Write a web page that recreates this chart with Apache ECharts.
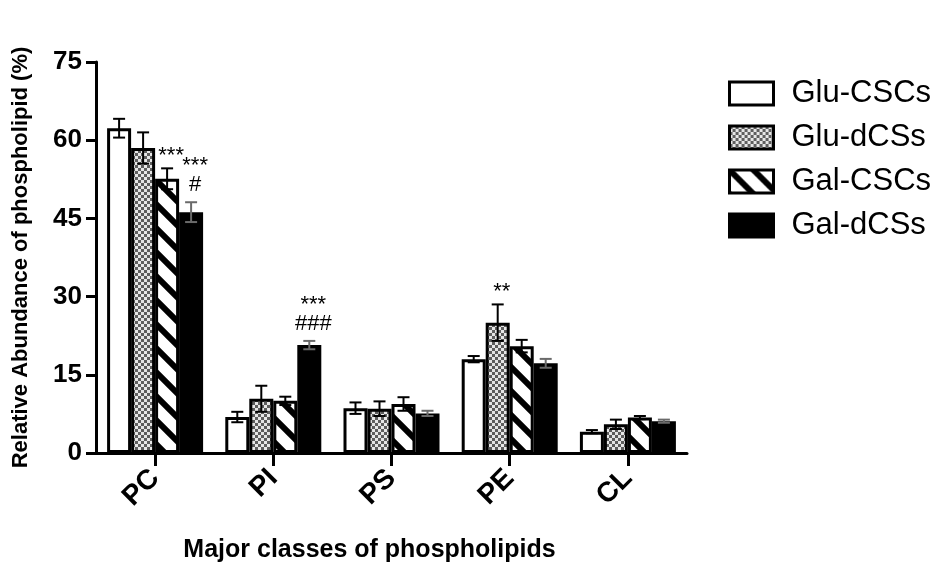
<!DOCTYPE html>
<html>
<head>
<meta charset="utf-8">
<title>Major classes of phospholipids</title>
<script src="https://cdn.jsdelivr.net/npm/echarts@6.0.0/dist/echarts.min.js"></script>
<style>
  html, body { margin: 0; padding: 0; background: #ffffff; }
  #chart { width: 939px; height: 568px; }
</style>
</head>
<body>
<div id="chart"></div>
<script>
// Phospholipid classes on the x axis
const categories = ['PC', 'PI', 'PS', 'PE', 'CL'];

// Group names, in legend order
const groupNames = ['Glu-CSCs', 'Glu-dCSs', 'Gal-CSCs', 'Gal-dCSs'];

// Mean relative abundance (%) per class, one array per group
const gluCSCs = [62.3, 6.9, 8.6, 18.0, 4.1];
const gluDCSs = [58.5, 10.4, 8.5, 25.0, 5.5];
const galCSCs = [52.6, 10.0, 9.4, 20.5, 6.8];
const galDCSs = [46.2, 20.7, 7.6, 17.2, 6.1];

// Error (SD) per class, one array per group
const gluCSCsErr = [1.8, 1.0, 1.1, 0.6, 0.3];
const gluDCSsErr = [3.0, 2.5, 1.4, 3.5, 0.9];
const galCSCsErr = [2.0, 0.8, 1.3, 1.2, 0.3];
const galDCSsErr = [1.9, 0.8, 0.5, 0.85, 0.3];

// Y axis ticks
const yTicks = [0, 15, 30, 45, 60, 75];

// Significance marks: class, group index, text, stacking level above the error bar
const sigMarks = [
  ['PC', 2, '***', 0],
  ['PC', 3, '#', 0],
  ['PC', 3, '***', 1],
  ['PI', 3, '###', 0],
  ['PI', 3, '***', 1],
  ['PE', 1, '**', 0]
];

const means = [gluCSCs, gluDCSs, galCSCs, galDCSs];
const errs = [gluCSCsErr, gluDCSsErr, galCSCsErr, galDCSsErr];

const FONT = '"Liberation Sans", Arial, Helvetica, sans-serif';
const BAR_W = 24;

// Fill patterns
function checkerPattern() {
  const c = document.createElement('canvas');
  c.width = 6; c.height = 6;
  const g = c.getContext('2d');
  g.fillStyle = '#e6e6e6';
  g.fillRect(0, 0, 6, 6);
  g.fillStyle = '#5e5e5e';
  g.fillRect(0, 0, 3, 3);
  g.fillRect(3, 3, 3, 3);
  return c;
}
function stripePattern() {
  const s = 24;
  const c = document.createElement('canvas');
  c.width = s; c.height = s;
  const g = c.getContext('2d');
  g.fillStyle = '#ffffff';
  g.fillRect(0, 0, s, s);
  g.strokeStyle = '#000000';
  g.lineWidth = 6;
  g.lineCap = 'square';
  for (let k = -1; k <= 1; k++) {
    g.beginPath();
    g.moveTo(-4, s * k - 4);
    g.lineTo(s + 4, s * k + s + 4);
    g.stroke();
  }
  return c;
}

const fills = [
  '#ffffff',
  { image: checkerPattern(), repeat: 'repeat' },
  { image: stripePattern(), repeat: 'repeat' },
  '#000000'
];
const errColors = ['#000000', '#000000', '#000000', '#6a6a6a'];

const barSeries = groupNames.map((name, i) => ({
  name: name,
  type: 'bar',
  barWidth: BAR_W,
  barGap: '0%',
  data: means[i],
  itemStyle: { color: fills[i], borderColor: '#000000', borderWidth: 3 },
  z: 2
}));

const errSeries = groupNames.map((name, i) => ({
  type: 'custom',
  name: name + ' err',
  z: 5,
  silent: true,
  data: categories.map((c, j) => [j, means[i][j], errs[i][j]]),
  encode: { x: 0, y: 1 },
  renderItem: function (params, api) {
    const idx = api.value(0);
    const m = api.value(1);
    const e = api.value(2);
    const base = api.coord([idx, m]);
    const x = base[0] + (i - 1.5) * BAR_W;
    const yTop = api.coord([idx, m + e])[1];
    const yBot = api.coord([idx, m - e])[1];
    const half = 6;
    const style = { stroke: errColors[i], lineWidth: 2 };
    return {
      type: 'group',
      children: [
        { type: 'line', shape: { x1: x, y1: yTop, x2: x, y2: yBot }, style: style },
        { type: 'line', shape: { x1: x - half, y1: yTop, x2: x + half, y2: yTop }, style: style },
        { type: 'line', shape: { x1: x - half, y1: yBot, x2: x + half, y2: yBot }, style: style }
      ]
    };
  }
}));

const sigSeries = {
  type: 'custom',
  name: 'significance',
  z: 6,
  silent: true,
  data: sigMarks.map(s => {
    const j = categories.indexOf(s[0]);
    const g = s[1];
    return [j, means[g][j] + errs[g][j], g, s[3]];
  }),
  encode: { x: 0, y: 1 },
  renderItem: function (params, api) {
    const idx = api.value(0);
    const top = api.coord([idx, api.value(1)]);
    const g = api.value(2);
    const level = api.value(3);
    const txt = sigMarks[params.dataIndex][2];
    const isStar = txt.indexOf('*') >= 0;
    const x = top[0] + (g - 1.5) * BAR_W + 4;
    const y = top[1] - 17 - level * 24 + (isStar ? 5 : 0);
    return {
      type: 'text',
      style: {
        x: x, y: y, text: txt,
        align: 'center', verticalAlign: 'middle',
        font: '22px ' + FONT, fill: '#000000'
      }
    };
  }
};

const chart = echarts.init(document.getElementById('chart'), null, { renderer: 'canvas' });

chart.setOption({
  animation: false,
  backgroundColor: '#ffffff',
  textStyle: { fontFamily: FONT },
  grid: { left: 96, right: 252, top: 62, bottom: 114, containLabel: false },
  legend: {
    orient: 'vertical',
    left: 723,
    top: 73,
    data: groupNames,
    icon: 'rect',
    itemWidth: 44,
    itemHeight: 23,
    itemGap: 13,
    itemStyle: { borderColor: '#000000', borderWidth: 3 },
    textStyle: {
      fontFamily: FONT, fontSize: 31, color: '#000000',
      padding: [0, 0, 0, 13]
    }
  },
  xAxis: {
    type: 'category',
    data: categories,
    name: 'Major classes of phospholipids',
    nameLocation: 'middle',
    nameGap: 85,
    nameTextStyle: {
      fontFamily: FONT, fontSize: 25, fontWeight: 'bold', color: '#000000',
      padding: [0, 44, 0, 0]
    },
    axisLine: { show: true, lineStyle: { color: '#000000', width: 3 } },
    axisTick: { show: true, alignWithLabel: true, length: 13, lineStyle: { color: '#000000', width: 3 } },
    axisLabel: {
      rotate: 45, margin: 21,
      fontFamily: FONT, fontSize: 28, fontWeight: 'bold', color: '#000000'
    },
    splitLine: { show: false }
  },
  yAxis: {
    type: 'value',
    min: yTicks[0],
    max: yTicks[yTicks.length - 1],
    interval: yTicks[1] - yTicks[0],
    name: 'Relative Abundance of phospholipid (%)',
    nameLocation: 'middle',
    nameGap: 64,
    nameTextStyle: { fontFamily: FONT, fontSize: 22, fontWeight: 'bold', color: '#000000' },
    axisLine: { show: true, lineStyle: { color: '#000000', width: 3 } },
    axisTick: { show: true, length: 10, lineStyle: { color: '#000000', width: 3 } },
    axisLabel: {
      margin: 14,
      fontFamily: FONT, fontSize: 26, fontWeight: 'bold', color: '#000000'
    },
    splitLine: { show: false }
  },
  series: barSeries.concat(errSeries).concat([sigSeries])
});
</script>
</body>
</html>
